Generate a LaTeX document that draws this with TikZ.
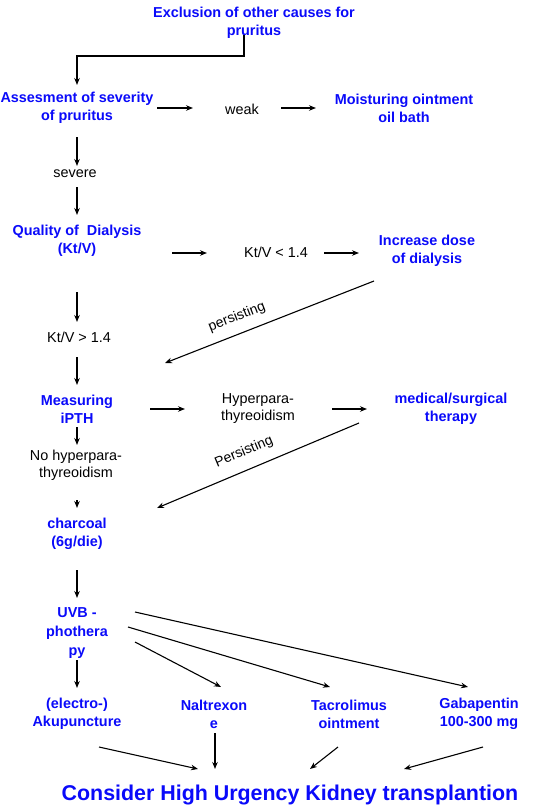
\documentclass[tikz,border=0pt]{standalone}
\usepackage{fontspec}
\setmainfont{Liberation Sans}
\usetikzlibrary{calc,arrows.meta}
\definecolor{fblue}{RGB}{10,10,250}
\tikzset{
  bluebox/.style={font=\bfseries\fontsize{14.4}{18}\selectfont, text=fblue, align=center, inner sep=0pt},
  plainbox/.style={font=\fontsize{14.4}{17}\selectfont, text=black, align=center, inner sep=0pt},
  rotlabel/.style={font=\fontsize{14}{16}\selectfont, text=black, inner sep=0pt},
  bigbox/.style={font=\bfseries\fontsize{21.4}{24}\selectfont, text=fblue, inner sep=0pt},
  arr/.style={line width=1.1pt, -{Stealth[length=7pt,width=5.5pt]}},
}
\begin{document}
\begin{tikzpicture}[x=1pt,y=-1pt]
\useasboundingbox[fill=white] (0,0) rectangle (540,811);

\node[bluebox] (excl) at (254,23) {Exclusion of other causes for\\pruritus};
\node[bluebox] (assess) at (77,108) {Assesment of severity\\of pruritus};
\node[plainbox] (weak) at (242,109) {weak};
\node[bluebox] (moist) at (404,108) {Moisturing ointment\\oil bath};
\node[plainbox] (severe) at (75,174) {severe};
\node[bluebox] (quality) at (77,241) {Quality of\ \ Dialysis\\(Kt/V)};
\node[plainbox] (ktl) at (276,252) {Kt/V < 1.4};
\node[bluebox] (incr) at (427,251) {Increase dose\\of dialysis};
\node[plainbox] (ktg) at (79,337) {Kt/V > 1.4};
\node[bluebox] (meas) at (77,409) {Measuring\\iPTH};
\node[plainbox] (hyper) at (258,409) {Hyperpara-\\thyreoidism};
\node[bluebox] (medsurg) at (451,409) {medical/surgical\\therapy};
\node[plainbox] (nohyper) at (76,465) {No hyperpara-\\thyreoidism};
\node[bluebox] (charcoal) at (77,534) {charcoal\\(6g/die)};
\node[bluebox, font=\bfseries\fontsize{14.4}{19}\selectfont] (uvb) at (77,633) {UVB -\\phothera\\py};
\node[bluebox] (electro) at (77,714) {(electro-)\\Akupuncture};
\node[bluebox] (nalt) at (214,714) {Naltrexon\\e};
\node[bluebox] (tacro) at (349,714) {Tacrolimus\\ointment};
\node[bluebox] (gaba) at (479,714) {Gabapentin\\100-300 mg};
\node[bigbox] (consider) at (290,795) {Consider High Urgency Kidney transplantion};

\node[rotlabel, rotate=21.4] (pers1) at ($(meas)+(160,-92)$) {persisting};
\node[rotlabel, rotate=22.8] (pers2) at ($(charcoal)+(167,-82)$) {Persisting};

\draw[arr] ($(excl)+(-10,12)$) |- ($(assess)+(0,-52)$) -- ($(assess)+(0,-23)$);
\draw[arr] ($(assess)+(80,0)$) -- ($(weak)+(-49,-1)$);
\draw[arr] ($(weak)+(39,-1)$) -- ($(moist)+(-88,0)$);
\draw[arr] ($(assess)+(0,29)$) -- ($(severe)+(2,-8)$);
\draw[arr] ($(severe)+(2,13)$) -- ($(quality)+(0,-26)$);
\draw[arr] ($(quality)+(95,12)$) -- ($(ktl)+(-69,1)$);
\draw[arr] ($(ktl)+(48,1)$) -- ($(incr)+(-68,2)$);
\draw[arr] ($(quality)+(0,51)$) -- ($(ktg)+(-2,-15)$);
\draw[arr] ($(ktg)+(-2,20)$) -- ($(meas)+(0,-24)$);
\draw[arr] ($(incr)+(-53,30)$) -- ($(meas)+(88,-46)$);
\draw[arr] ($(meas)+(73,0)$) -- ($(hyper)+(-73,0)$);
\draw[arr] ($(hyper)+(74,0)$) -- ($(medsurg)+(-84,0)$);
\draw[arr] ($(meas)+(0,18)$) -- ($(nohyper)+(1,-20)$);
\draw[arr] ($(nohyper)+(1,35)$) -- ($(charcoal)+(0,-26)$);
\draw[arr] ($(medsurg)+(-92,14)$) -- ($(charcoal)+(80,-26)$);
\draw[arr] ($(charcoal)+(0,36)$) -- ($(uvb)+(0,-35)$);
\draw[arr] ($(uvb)+(0,27)$) -- ($(electro)+(0,-26)$);
\draw[arr] ($(uvb)+(58,9)$) -- ($(nalt)+(7,-27)$);
\draw[arr] ($(uvb)+(51,-6)$) -- ($(tacro)+(-19,-27)$);
\draw[arr] ($(uvb)+(58,-21)$) -- ($(gaba)+(-11,-27)$);
\draw[arr] ($(electro)+(22,33)$) -- ($(consider)+(-92,-26)$);
\draw[arr] ($(nalt)+(1,19)$) -- ($(consider)+(-75,-26)$);
\draw[arr] ($(tacro)+(-11,33)$) -- ($(consider)+(20,-26)$);
\draw[arr] ($(gaba)+(4,33)$) -- ($(consider)+(114,-26)$);
\end{tikzpicture}
\end{document}
